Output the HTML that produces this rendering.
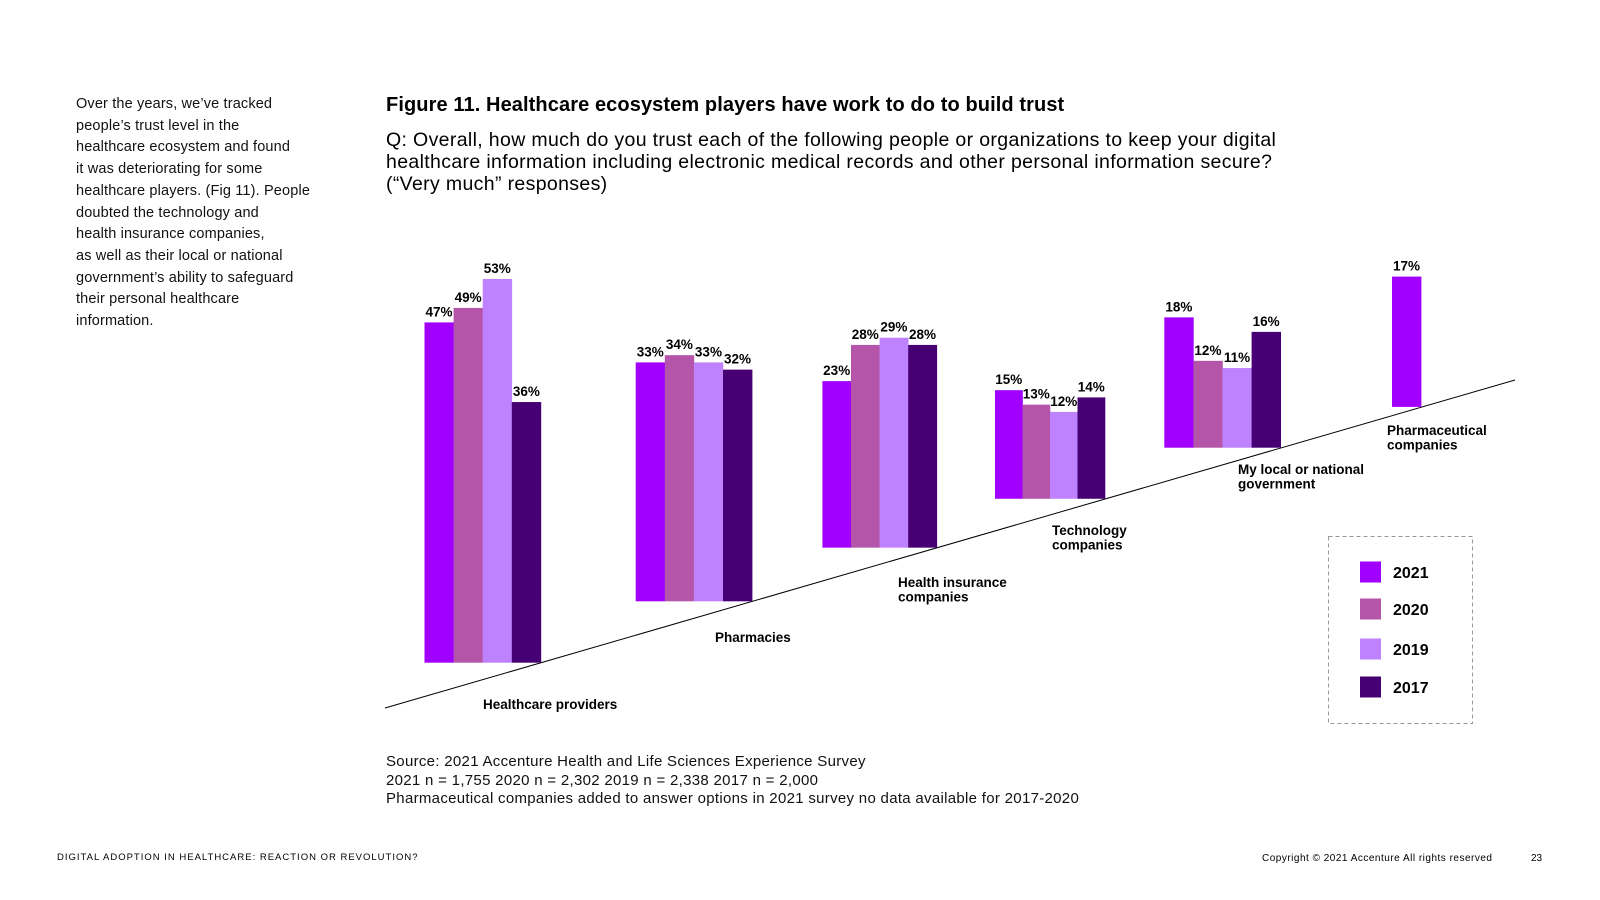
<!DOCTYPE html>
<html><head><meta charset="utf-8">
<style>
body{margin:0;width:1600px;height:900px;background:#fff;font-family:"Liberation Sans",sans-serif;position:relative;overflow:hidden;color:#000}
.abs{position:absolute}
#intro{left:76px;top:94px;width:280px;font-size:14.5px;line-height:21.7px;color:#111;letter-spacing:0.15px;white-space:nowrap}
#title{left:386px;top:94px;font-size:20px;font-weight:bold;letter-spacing:0.1px}
#question{left:386px;top:129px;font-size:19.5px;line-height:22px;white-space:nowrap;letter-spacing:0.35px}
#source{left:386px;top:753px;font-size:15px;line-height:18.5px;color:#111;letter-spacing:0.3px}
#footer{left:57px;top:852px;font-size:9.5px;letter-spacing:1px}
#copy{left:1262px;top:853px;font-size:10px;letter-spacing:0.5px}
#page{left:1531px;top:853px;font-size:10px}
</style></head><body>
<div id="intro" class="abs">Over the years, we’ve tracked<br>people’s trust level in the<br>healthcare ecosystem and found<br>it was deteriorating for some<br>healthcare players. (Fig 11). People<br>doubted the technology and<br>health insurance companies,<br>as well as their local or national<br>government’s ability to safeguard<br>their personal healthcare<br>information.</div>
<div id="title" class="abs">Figure 11. Healthcare ecosystem players have work to do to build trust</div>
<div id="question" class="abs">Q: Overall, how much do you trust each of the following people or organizations to keep your digital<br>healthcare information including electronic medical records and other personal information secure?<br>(“Very much” responses)</div>
<svg class="abs" style="left:0;top:0" width="1600" height="900" id="chart"></svg>
<div id="source" class="abs">Source: 2021 Accenture Health and Life Sciences Experience Survey<br>2021 n = 1,755 2020 n = 2,302 2019 n = 2,338 2017 n = 2,000<br>Pharmaceutical companies added to answer options in 2021 survey no data available for 2017-2020</div>
<div id="footer" class="abs">DIGITAL ADOPTION IN HEALTHCARE: REACTION OR REVOLUTION?</div>
<div id="copy" class="abs">Copyright © 2021 Accenture All rights reserved</div>
<div id="page" class="abs">23</div>
<script>
const categories=["Healthcare providers","Pharmacies","Health insurance companies","Technology companies","My local or national government","Pharmaceutical companies"];
const seriesNames=["2021","2020","2019","2017"];
const v2021=[47,33,23,15,18,18];
const v2020=[49,34,28,13,12,null];
const v2019=[53,33,29,12,11,null];
const v2017=[36,32,28,14,16,null];
const printed2021=["47%","33%","23%","15%","18%","17%"];
const colors=["#a100ff","#b455aa","#be82ff","#460073"];
const groupX=[424.5,635.7,822.4,995,1164.3,1392];
const barW=[29.1,29.1,28.6,27.5,29.1,29.1];
const labelLines=[["Healthcare providers"],["Pharmacies"],["Health insurance","companies"],["Technology","companies"],["My local or national","government"],["Pharmaceutical","companies"]];
const labelPos=[[483,704],[715,637],[898,582],[1052,530],[1238,469],[1387,430]];
const pxPer=7.24;
const lineY=x=>708-(x-385)*0.2906;
const svg=document.getElementById('chart');
const NS="http://www.w3.org/2000/svg";
function mk(t,a){const e=document.createElementNS(NS,t);for(const k in a)e.setAttribute(k,a[k]);svg.appendChild(e);return e;}
const axis=mk('line',{x1:385,y1:708,x2:1515,y2:380,stroke:'#000','stroke-width':1});


const all=[v2021,v2020,v2019,v2017];
categories.forEach((c,i)=>{
  const n=all.filter(s=>s[i]!=null).length;
  const right=groupX[i]+barW[i]*n;
  const base=lineY(right);
  all.forEach((s,j)=>{
    if(s[i]==null)return;
    const x=groupX[i]+barW[i]*j, h=s[i]*pxPer;
    const r=mk('rect',{x:x,y:base-h,width:barW[i]+0.3,height:h,fill:colors[j]});
    
    
    const t=mk('text',{x:x+barW[i]/2,y:base-h-6,'text-anchor':'middle','font-size':13.5,'font-weight':'bold','font-family':'Liberation Sans, sans-serif'});
    t.textContent=j===0?printed2021[i]:s[i]+'%';
    
    
  });
  labelLines[i].forEach((ln,k)=>{
    const t=mk('text',{x:labelPos[i][0],y:labelPos[i][1]+5+k*14.5,'font-size':13.5,'font-weight':'bold','font-family':'Liberation Sans, sans-serif'});
    t.textContent=ln;
    
    
  });
});
const box=mk('rect',{x:1328.5,y:536.5,width:144,height:187,fill:'none',stroke:'#999','stroke-dasharray':'4 3'});


const legY=[572,609,649,687];
seriesNames.forEach((s,j)=>{
  const r=mk('rect',{x:1360,y:legY[j]-10.5,width:21,height:21,fill:colors[j]});
  
  
  const t=mk('text',{x:1393,y:legY[j]+6,'font-size':16,'font-weight':'bold','font-family':'Liberation Sans, sans-serif'});
  t.textContent=s;
  
  
});
</script>
</body></html>
